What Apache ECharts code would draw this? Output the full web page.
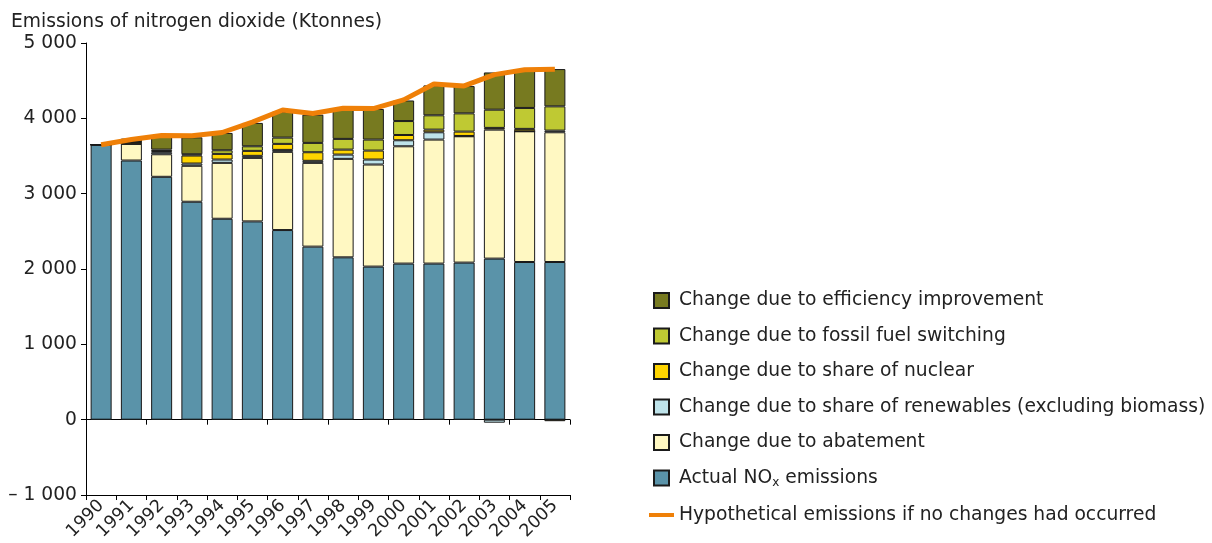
<!DOCTYPE html>
<html>
<head>
<meta charset="utf-8">
<title>NOx emissions decomposition</title>
<script src="https://cdn.jsdelivr.net/npm/echarts@6/dist/echarts.min.js"></script>
<style>
  html, body { margin: 0; padding: 0; background: #fff; }
  #chart { width: 1212px; height: 543px; }
</style>
</head>
<body>
<div id="chart"></div>
<script>
// categories
const years = ['1990', '1991', '1992', '1993', '1994', '1995', '1996', '1997',
  '1998', '1999', '2000', '2001', '2002', '2003', '2004', '2005'];

// stacked components (Ktonnes)
const actualNox = [3650, 3440, 3224, 2893, 2667, 2632, 2517, 2297, 2155, 2032, 2072, 2072, 2085, 2138, 2093, 2093];
const abatement = [0, 221, 299, 477, 742, 843, 1038, 1112, 1307, 1355, 1557, 1646, 1677, 1712, 1735, 1722];
const renewables = [0, 0, 27, 30, 44, 27, 26, 27, 57, 66, 80, 97, 4, -40, 0, 22];
const nuclear = [0, 26, 15, 106, 75, 66, 80, 114, 66, 119, 70, 35, 58, 23, 32, -20];
const fuelSwitching = [0, 0, 20, 17, 48, 61, 83, 124, 142, 146, 185, 190, 242, 242, 278, 322];
const efficiency = [0, 44, 168, 225, 230, 310, 345, 375, 397, 406, 273, 397, 362, 494, 507, 495];

// hypothetical emissions line
const hypothetical = [3650, 3718, 3772, 3770, 3812, 3950, 4110, 4065, 4135, 4130, 4245, 4455, 4430, 4580, 4645, 4652];

const FONT = '"DejaVu Sans", Verdana, sans-serif';
const FS = 18.7;
const square = 'path://M0,0h15v15h-15z';
const dash = 'path://M0,0h25v4h-25z';

const chart = echarts.init(document.getElementById('chart'));

const fmt = (v) => {
  const s = Math.abs(v).toString().replace(/\B(?=(\d{3})+(?!\d))/g, ' ');
  return v < 0 ? '– ' + s : s;
};

const barSeries = (name, data, color) => ({
  name: name,
  type: 'bar',
  stack: 'total',
  data: data,
  barWidth: 21,
  itemStyle: {
    color: color,
    borderColor: '#1a1a1a',
    borderWidth: 1
  }
});

chart.setOption({
  animation: false,
  title: {
    text: 'Emissions of nitrogen dioxide (Ktonnes)',
    left: 6,
    top: 8,
    textStyle: { fontFamily: FONT, fontSize: FS, fontWeight: 'normal', color: '#222' }
  },
  legend: {
    orient: 'vertical',
    left: 644,
    top: 286,
    itemWidth: 25,
    itemHeight: 15,
    itemGap: 16.5,
    textStyle: {
      fontFamily: FONT,
      fontSize: FS,
      color: '#222',
      rich: {
        sub: { fontFamily: FONT, fontSize: 12, color: '#222', padding: [10, 0, 0, 0] }
      }
    },
    formatter: (name) => name === 'Actual NOx emissions' ? 'Actual NO{sub|x} emissions' : name,
    data: [
      { name: 'Change due to efficiency improvement', icon: square },
      { name: 'Change due to fossil fuel switching', icon: square },
      { name: 'Change due to share of nuclear', icon: square },
      { name: 'Change due to share of renewables (excluding biomass)', icon: square },
      { name: 'Change due to abatement', icon: square },
      { name: 'Actual NOx emissions', icon: square },
      { name: 'Hypothetical emissions if no changes had occurred', icon: dash }
    ]
  },
  grid: { left: 86, right: 642, top: 43, bottom: 46 },
  xAxis: [
    {
      type: 'category',
      data: years,
      position: 'bottom',
      axisLine: { onZero: false, lineStyle: { color: '#000', width: 1 } },
      axisTick: { show: true, length: 5, lineStyle: { color: '#000' } },
      axisLabel: { rotate: 45, fontFamily: FONT, fontSize: 17.5, color: '#222', margin: 8, interval: 0 }
    },
    {
      type: 'category',
      data: years,
      position: 'bottom',
      axisLine: { onZero: true, lineStyle: { color: '#000', width: 1 } },
      axisTick: { show: true, length: 5, lineStyle: { color: '#000' } },
      axisLabel: { show: false }
    }
  ],
  yAxis: {
    type: 'value',
    min: -1000,
    max: 5000,
    interval: 1000,
    axisLine: { show: true, lineStyle: { color: '#000' } },
    axisTick: { show: true, length: 5, lineStyle: { color: '#000' } },
    splitLine: { show: false },
    axisLabel: { fontFamily: FONT, fontSize: FS, color: '#222', margin: 9, formatter: fmt }
  },
  series: [
    barSeries('Actual NOx emissions', actualNox, '#5a93a9'),
    barSeries('Change due to abatement', abatement, '#fff8c2'),
    barSeries('Change due to share of renewables (excluding biomass)', renewables, '#bee3ea'),
    barSeries('Change due to share of nuclear', nuclear, '#ffd500'),
    barSeries('Change due to fossil fuel switching', fuelSwitching, '#bfc933'),
    barSeries('Change due to efficiency improvement', efficiency, '#777a20'),
    {
      name: 'Hypothetical emissions if no changes had occurred',
      type: 'line',
      data: hypothetical,
      symbol: 'none',
      z: 5,
      lineStyle: { color: '#ef8008', width: 5 },
      itemStyle: { color: '#ef8008' }
    }
  ]
});
</script>
</body>
</html>
